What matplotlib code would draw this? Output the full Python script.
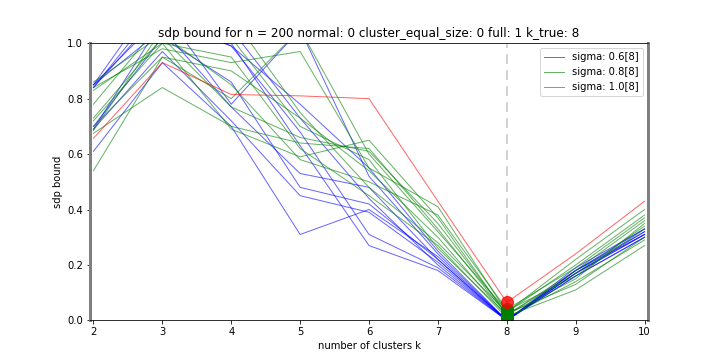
import numpy as np
import matplotlib
matplotlib.use("Agg")
import matplotlib.pyplot as plt
from matplotlib.lines import Line2D

K_VALUES = [2, 3, 4, 5, 6, 7, 8, 9, 10]
K_TRUE = 8
N = 200

# sdp bound per run, sigma = 0.6
SIGMA_06 = [
    [0.85, 1.10, 0.99, 0.78, 0.55, 0.25, 0.00, 0.17, 0.31],
    [0.85, 1.05, 0.77, 0.53, 0.48, 0.22, 0.00, 0.18, 0.32],
    [0.84, 1.15, 1.05, 0.73, 0.44, 0.20, 0.00, 0.16, 0.30],
    [0.69, 0.97, 0.72, 0.45, 0.39, 0.21, 0.00, 0.17, 0.31],
    [0.69, 1.08, 0.99, 0.68, 0.31, 0.19, 0.00, 0.18, 0.33],
    [0.61, 0.93, 0.70, 0.31, 0.40, 0.23, 0.00, 0.16, 0.30],
    [0.85, 1.20, 1.00, 0.63, 0.27, 0.18, 0.00, 0.17, 0.32],
    [0.70, 1.02, 0.86, 0.48, 0.42, 0.22, 0.00, 0.19, 0.33],
    [0.84, 1.12, 0.78, 1.05, 0.52, 0.24, 0.00, 0.18, 0.31],
]

# sdp bound per run, sigma = 0.8
SIGMA_08 = [
    [0.84, 0.98, 0.93, 0.97, 0.55, 0.41, 0.030, 0.20, 0.38],
    [0.83, 1.00, 0.69, 0.59, 0.65, 0.37, 0.020, 0.15, 0.35],
    [0.73, 1.02, 0.77, 0.66, 0.61, 0.35, 0.025, 0.13, 0.30],
    [0.70, 0.95, 0.90, 0.73, 0.54, 0.30, 0.015, 0.11, 0.27],
    [0.685, 1.05, 1.10, 0.75, 0.48, 0.28, 0.030, 0.22, 0.40],
    [0.675, 0.84, 0.70, 0.64, 0.62, 0.33, 0.020, 0.18, 0.36],
    [0.54, 0.95, 0.80, 1.05, 0.60, 0.32, 0.035, 0.16, 0.33],
    [0.72, 1.00, 0.95, 0.62, 0.45, 0.27, 0.010, 0.14, 0.29],
    [0.86, 1.03, 0.85, 0.58, 0.50, 0.38, 0.040, 0.19, 0.37],
    [0.78, 1.08, 1.02, 0.70, 0.58, 0.26, 0.020, 0.17, 0.34],
]

# sdp bound per run, sigma = 1.0
SIGMA_10 = [
    [0.657, 0.93, 0.815, 0.81, 0.80, 0.43, 0.065, 0.24, 0.43],
]

GROUPS = [
    ("sigma: 0.6[8]", "blue", SIGMA_06),
    ("sigma: 0.8[8]", "green", SIGMA_08),
    ("sigma: 1.0[8]", "red", SIGMA_10),
]

fig, ax = plt.subplots(figsize=(10, 5), dpi=72)

ax.axvline(K_TRUE, color="lightgray", linestyle="--", linewidth=2,
           dashes=(5, 3), zorder=1)

k_idx = K_VALUES.index(K_TRUE)
handles = []
for label, colour, runs in GROUPS:
    for run in runs:
        ax.plot(K_VALUES, run, color=colour, alpha=0.6, linewidth=1)
        ax.plot(K_TRUE, run[k_idx], "o", color=colour, markersize=12,
                alpha=0.8)
    handles.append(Line2D([], [], color=colour, alpha=0.6, linewidth=1,
                          label=label))

ax.set_xlim(1.95, 10.05)
ax.set_ylim(0, 1)
ax.set_xlabel("number of clusters k")
ax.set_ylabel("sdp bound")
ax.set_title(f"sdp bound for n = {N} normal: 0 cluster_equal_size: 0 "
             f"full: 1 k_true: {K_TRUE}")
for side in ("left", "right"):
    ax.spines[side].set_color("gray")
    ax.spines[side].set_linewidth(3)
ax.legend(handles=handles, loc="upper right")

fig.savefig("out.png", dpi=72)
